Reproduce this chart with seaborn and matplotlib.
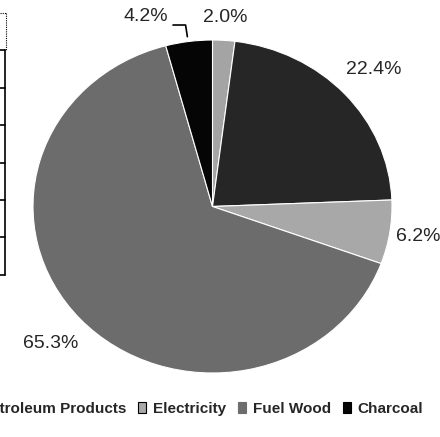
import numpy as np
import matplotlib
matplotlib.use("Agg")
import matplotlib.pyplot as plt
import seaborn as sns
from matplotlib.lines import Line2D
from matplotlib.patches import Patch

# data (share of energy consumption, %), clockwise from 12 o'clock
sources = ["Other", "Petroleum Products", "Electricity", "Fuel Wood", "Charcoal"]
shares = [2.0, 22.4, 6.2, 65.3, 4.2]
pct_labels = ["2.0%", "22.4%", "6.2%", "65.3%", "4.2%"]

colors = ["#a4a4a4", "#262626", "#a8a8a8", "#6c6c6c", "#050505"]
label_dist = [1.14, 1.22, 1.16, 1.22, None]

sns.set_theme(style="white")
plt.rcParams["font.family"] = ["Liberation Sans", "DejaVu Sans"]

W, H = 440, 437
fig = plt.figure(figsize=(W / 100, H / 100), dpi=100)
# pie is slightly elliptical in the scan -> stretch the axes
ax = fig.add_axes([33 / W, (H - 373) / H, 359 / W, 333 / H])

wedges, _ = ax.pie(shares, colors=colors, startangle=90, counterclock=False,
                   wedgeprops=dict(edgecolor="white", linewidth=0.8))
ax.set_aspect("auto")
ax.set_xlim(-1, 1)
ax.set_ylim(-1, 1)
ax.axis("off")

for w, lab, d in zip(wedges, pct_labels, label_dist):
    if d is None:
        continue
    mid = np.deg2rad((w.theta1 + w.theta2) / 2)
    ax.text(d * np.cos(mid), d * np.sin(mid), lab, ha="center", va="center",
            fontsize=14, clip_on=False)

# 4.2% label moved aside with a leader line
ax.text(-0.37, 1.14, pct_labels[-1], ha="center", va="center",
        fontsize=14, clip_on=False)
ax.plot([-0.22, -0.15, -0.14], [1.09, 1.09, 1.02], color="black",
        lw=1.2, clip_on=False)

# legend (left part cropped off in the scan)
edge = ["black", "black", "black", "#6c6c6c", "black"]
handles = [Patch(facecolor=c, edgecolor=e, linewidth=0.8) for c, e in zip(colors, edge)]
fig.legend(handles, sources, loc="center right",
           bbox_to_anchor=(437 / W, 1 - 409 / H), ncol=5, frameon=False,
           handlelength=0.5, handleheight=0.7, handletextpad=0.45,
           columnspacing=0.8,
           prop=dict(weight="bold", size=11))

# edge of the neighbouring table, cropped at the left
def px_line(xs, ys, **kw):
    fig.add_artist(Line2D([x / W for x in xs], [1 - y / H for y in ys],
                          transform=fig.transFigure, color="black", **kw))

px_line([5, 5], [50, 275], lw=1.2)
for y in [50, 88, 125, 163, 200, 237, 275]:
    px_line([0, 5], [y, y], lw=1.2)
px_line([6, 6], [13, 50], lw=0.8, ls=(0, (1, 1)))
px_line([0, 6], [13, 13], lw=0.8, ls=(0, (1, 1)))

fig.savefig("out.png", dpi=100)
